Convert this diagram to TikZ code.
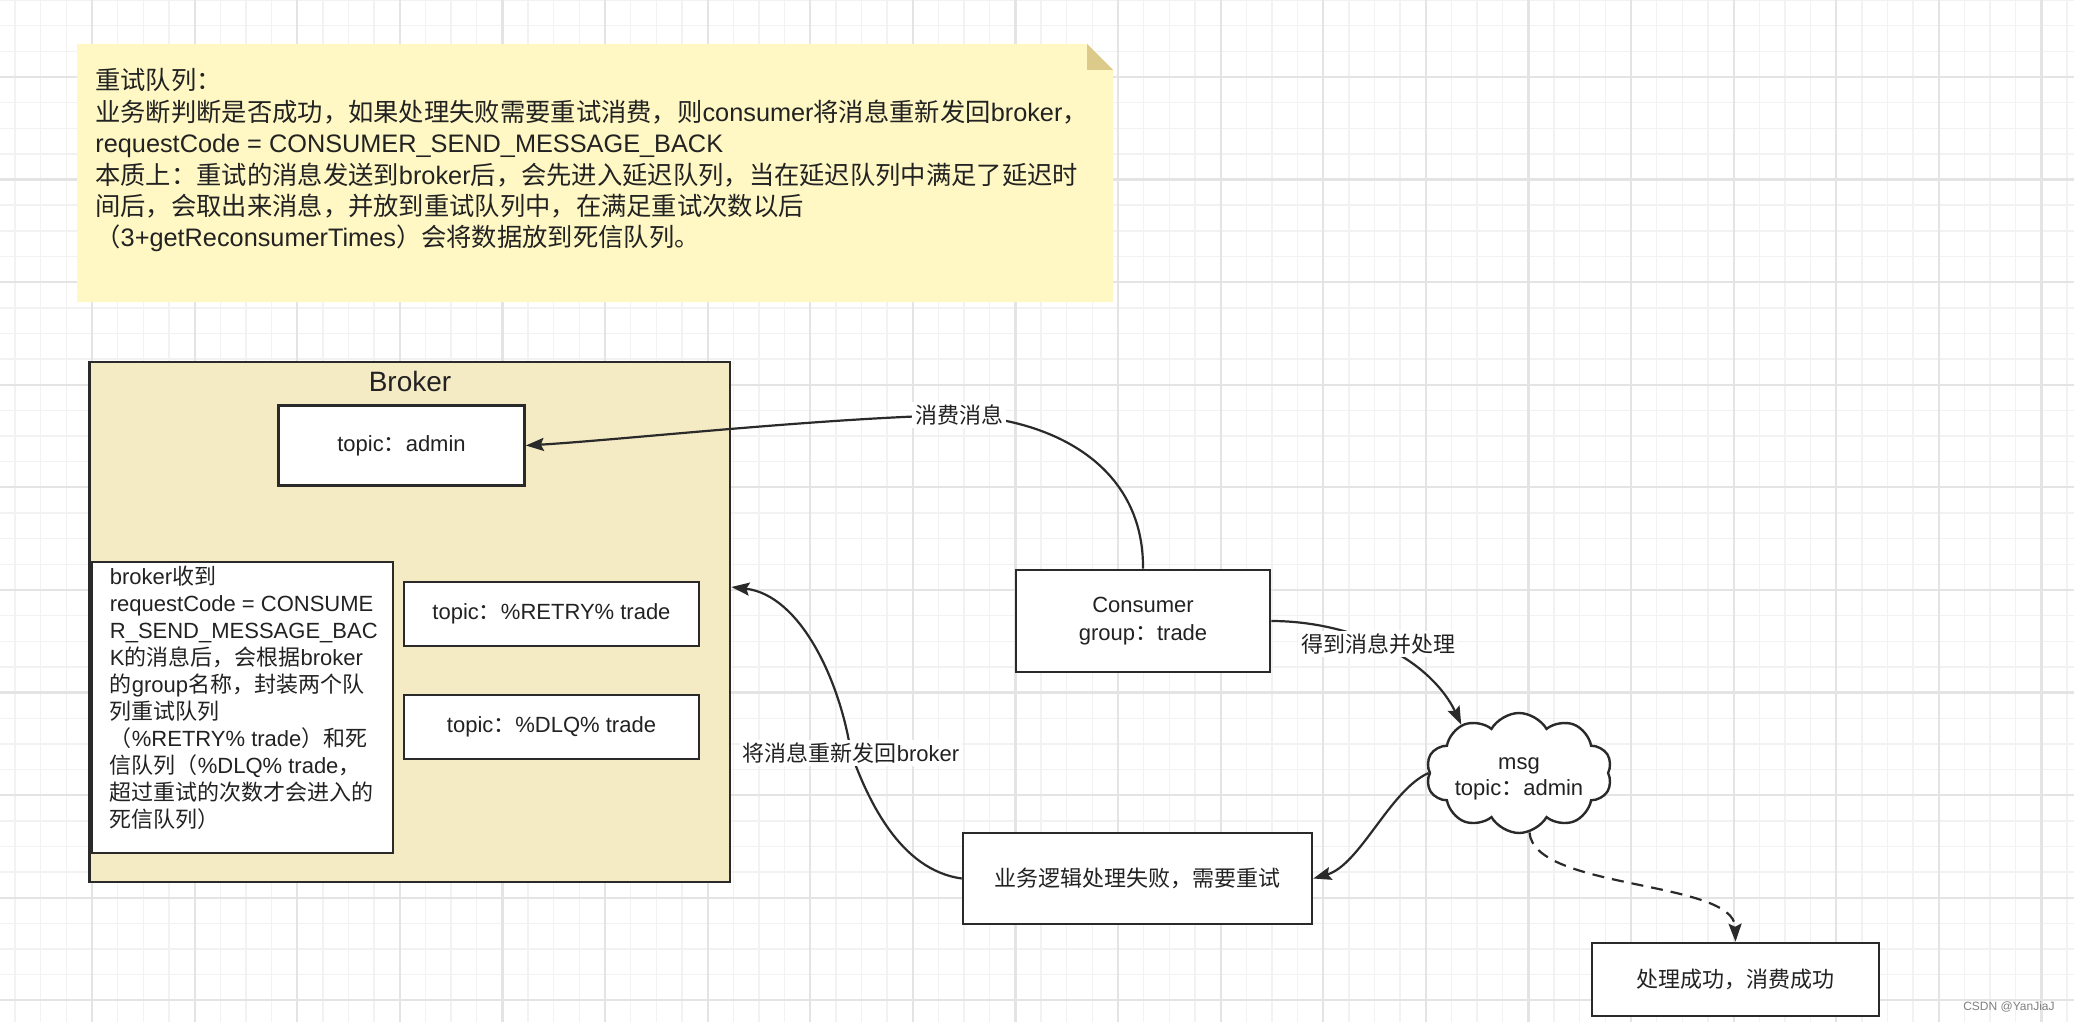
\documentclass[tikz,border=0pt]{standalone}
\usepackage{fontspec}
\setmainfont{Liberation Sans}
\newfontfamily\cjk{Noto Sans CJK SC}
\usetikzlibrary{arrows.meta,shapes.symbols}
\newcommand\C[1]{{\cjk #1}}
\definecolor{notefill}{HTML}{FFF8C4}
\definecolor{notefold}{HTML}{DCCA8B}
\definecolor{brokerfill}{HTML}{F4EAC4}
\definecolor{ink}{HTML}{2A2A2A}
\definecolor{txt}{HTML}{222222}
\definecolor{gridminor}{HTML}{F2F2F2}
\definecolor{gridmajor}{HTML}{E4E4E4}
\begin{document}
\begin{tikzpicture}[x=0.5pt,y=-0.5pt,
  box/.style={draw=ink,line width=1.3pt,fill=white,inner sep=0pt,text=txt,
    font=\fontsize{11pt}{14pt}\selectfont,align=center},
  lbl/.style={fill=white,inner sep=1.5pt,text=txt,font=\fontsize{11pt}{13.5pt}\selectfont},
  notetxt/.style={anchor=base west,inner sep=0pt,text=txt,font=\fontsize{12.65pt}{15pt}\selectfont},
  lbtxt/.style={anchor=base west,inner sep=0pt,text=txt,font=\fontsize{11pt}{13.5pt}\selectfont},
  plain/.style={draw=ink,line width=1.1pt},
  conn/.style={draw=ink,line width=1.1pt,-{Stealth[length=9pt,width=6.5pt,inset=1.5pt]}},
]
\useasboundingbox (0,0) rectangle (2074,1022);
\fill[white] (0,0) rectangle (2074,1022);
% grid
\foreach \k in {0,...,80} \draw[gridminor,line width=0.7pt] ({15.05+\k*25.65},0) -- ({15.05+\k*25.65},1022);
\foreach \k in {0,...,40} \draw[gridminor,line width=0.7pt] (0,{\k*25.65}) -- (2074,{\k*25.65});
\foreach \k in {0,...,19} \draw[gridmajor,line width=1.1pt] ({92+\k*102.6},0) -- ({92+\k*102.6},1022);
\foreach \k in {0,...,9} \draw[gridmajor,line width=1.1pt] (0,{76.95+\k*102.6}) -- (2074,{76.95+\k*102.6});

% note
\fill[notefill] (77,44) -- (1087,44) -- (1113,70) -- (1113,302) -- (77,302) -- cycle;
\fill[notefold] (1087,44) -- (1113,70) -- (1087,70) -- cycle;
\node[notetxt] (n1) at (95,90) {\C{重试队列：}};
\node[notetxt] (n2) at (95,121.35) {\C{业务断判断是否成功，如果处理失败需要重试消费，则}consumer\C{将消息重新发回}broker\C{，}};
\node[notetxt] (n3) at (95,152.7) {requestCode = CONSUMER\_SEND\_MESSAGE\_BACK};
\node[notetxt] (n4) at (95,184.05) {\C{本质上：重试的消息发送到}broker\C{后，会先进入延迟队列，当在延迟队列中满足了延迟时}};
\node[notetxt] (n5) at (95,215.4) {\C{间后，会取出来消息，并放到重试队列中，在满足重试次数以后}};
\node[notetxt] (n6) at (95,246.75) {\C{（}3+getReconsumerTimes\C{）会将数据放到死信队列。}};

% broker container
\node[draw=ink,line width=1.4pt,fill=brokerfill,minimum width=320.25pt,minimum height=260pt,inner sep=0pt] (broker) at (409.75,622) {};
\node[text=txt,font=\fontsize{14pt}{16pt}\selectfont] (brokert) at (410,381) {Broker};
\node[box,minimum width=123pt,minimum height=40pt] (ta) at (401.5,445.5) {topic\C{：}admin};
\node[box,minimum width=150.5pt,minimum height=145.5pt] (lb) at (242.5,707.5) {};
\node[lbtxt] (lb1) at (109.5,584.4) {broker\C{收到}};
\node[lbtxt] (lb2) at (109.5,611.4) {requestCode = CONSUME};
\node[lbtxt] (lb3) at (109.5,638.4) {R\_SEND\_MESSAGE\_BAC};
\node[lbtxt] (lb4) at (109.5,665.4) {K\C{的消息后，会根据}broker};
\node[lbtxt] (lb5) at (109.5,692.4) {\C{的}group\C{名称，封装两个队}};
\node[lbtxt] (lb6) at (109.5,719.4) {\C{列重试队列}};
\node[lbtxt] (lb7) at (109.5,746.4) {\C{（}\%RETRY\% trade\C{）和死}};
\node[lbtxt] (lb8) at (109.5,773.4) {\C{信队列（}\%DLQ\% trade\C{，}};
\node[lbtxt] (lb9) at (109.5,800.4) {\C{超过重试的次数才会进入的}};
\node[lbtxt] (lb10) at (109.5,827.4) {\C{死信队列）}};
\node[box,minimum width=147.5pt,minimum height=32pt] (rt) at (551.5,614) {topic\C{：}\%RETRY\% trade};
\node[box,minimum width=147.5pt,minimum height=32pt] (dlq) at (551.5,727) {topic\C{：}\%DLQ\% trade};

% right side nodes
\node[box,minimum width=127pt,minimum height=51pt] (cons) at (1143,621) {Consumer\\group\C{：}trade};
\node[box,minimum width=174.5pt,minimum height=45.5pt] (fail) at (1137.5,878.5) {\C{业务逻辑处理失败，需要重试}};
\node[box,minimum width=143.5pt,minimum height=36.5pt] (succ) at (1735.5,979.5) {\C{处理成功，消费成功}};
\node[cloud,cloud puffs=10,cloud puff arc=120,cloud ignores aspect,draw=ink,line width=1.2pt,fill=white,
  minimum width=93pt,minimum height=60pt,inner sep=0pt] (msg) at (1519,773) {};
\node[text=txt,align=center,inner sep=0pt,font=\fontsize{11pt}{13pt}\selectfont] (msgt) at (1519,779) {msg\\topic\C{：}admin};

% connectors
\coordinate (c1) at (959,415);
\coordinate (c2) at (1378,644);
\coordinate (c3) at (851,753);
\draw[plain] (cons.north) .. controls (1144,470) and (1060,420) .. (c1);
\draw[conn] (c1) .. controls (820,418) and (620,440) .. (ta.east);
\draw[plain] (cons.east) .. controls (1310,621) and (1350,630) .. (c2);
\draw[conn] (c2) .. controls (1420,662) and (1445,690) .. (msg.140);
\draw[conn] (msg.west) .. controls (1390,790) and (1360,865) .. (fail.east);
\draw[plain] (fail.west) .. controls (900,870) and (868,800) .. (c3);
\draw[conn] (c3) .. controls (840,680) and (800,595) .. ([yshift=17.5pt]broker.east);
\draw[conn,dash pattern=on 6pt off 4pt] (msg.-80) .. controls (1534,890) and (1734,880) .. (succ.north);
\node[lbl] (l1) at (c1) {\C{消费消息}};
\node[lbl] (l2) at (c2) {\C{得到消息并处理}};
\node[lbl] (l3) at (c3) {\C{将消息重新发回}broker};

\node[anchor=east,inner sep=0pt,text=gray,font=\fontsize{6pt}{7pt}\selectfont] (wm) at (2055,1007) {CSDN @YanJiaJ};
\end{tikzpicture}
\end{document}
